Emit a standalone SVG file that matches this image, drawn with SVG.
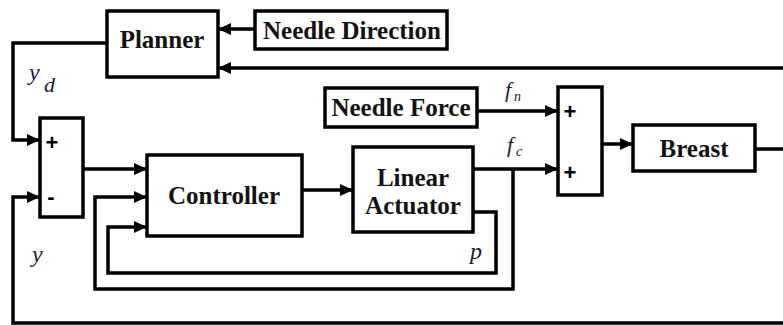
<svg xmlns="http://www.w3.org/2000/svg" width="783" height="325" viewBox="0 0 783 325">
<style>
.box{fill:#fff;stroke:#000;stroke-width:3.5}
.lbl{font-family:"Liberation Serif",serif;font-weight:bold;font-size:25px;fill:#111;text-anchor:middle}
.sign{font-family:"Liberation Sans",sans-serif;font-weight:bold;font-size:22px;fill:#000;text-anchor:middle}
.it{font-family:"Liberation Serif",serif;font-style:italic;fill:#1a1a3a}
.ln{fill:none;stroke:#000;stroke-width:3.5}
</style>
<defs>
<marker id="ah" markerUnits="userSpaceOnUse" markerWidth="13" markerHeight="12" refX="13" refY="6" orient="auto">
<path d="M0,0 L13,6 L0,12 z" fill="#000"/>
</marker>
</defs>
<g id="connectors">
<path class="ln" d="M107,43 H13 V140 H40" marker-end="url(#ah)"/>
<path class="ln" d="M255,29 H218" marker-end="url(#ah)"/>
<path class="ln" d="M783,68 H218" marker-end="url(#ah)"/>
<path class="ln" d="M83,169 H147" marker-end="url(#ah)"/>
<path class="ln" d="M302,190 H353" marker-end="url(#ah)"/>
<path class="ln" d="M473,169 H558" marker-end="url(#ah)"/>
<path class="ln" d="M513,169 V289 H95 V197 H147" marker-end="url(#ah)"/>
<path class="ln" d="M473,212 H496 V273 H108 V227 H147" marker-end="url(#ah)"/>
<path class="ln" d="M477,111 H558" marker-end="url(#ah)"/>
<path class="ln" d="M602,144 H633" marker-end="url(#ah)"/>
<path class="ln" d="M755,149 H783"/>
<path class="ln" d="M783,323 H13 V197 H40" marker-end="url(#ah)"/>
</g>
<g id="planner">
<rect class="box" x="107" y="11" width="111" height="66"/>
<text class="lbl" x="162" y="48">Planner</text>
</g>
<g id="needle-direction">
<rect class="box" x="255" y="11" width="192" height="38"/>
<text class="lbl" x="352" y="39">Needle Direction</text>
</g>
<g id="sum1">
<rect class="box" x="40" y="118" width="43" height="99"/>
<text class="sign" x="52" y="150">+</text>
<text class="sign" x="51" y="204">-</text>
</g>
<g id="controller">
<rect class="box" x="147" y="155" width="155" height="81"/>
<text class="lbl" x="224" y="204">Controller</text>
</g>
<g id="linear-actuator">
<rect class="box" x="353" y="147" width="120" height="85"/>
<text class="lbl" x="413" y="186">Linear</text>
<text class="lbl" x="413" y="214">Actuator</text>
</g>
<g id="needle-force">
<rect class="box" x="325" y="88" width="152" height="39"/>
<text class="lbl" x="401" y="116">Needle Force</text>
</g>
<g id="sum2">
<rect class="box" x="558" y="87" width="44" height="108"/>
<text class="sign" x="570" y="119">+</text>
<text class="sign" x="570" y="180">+</text>
</g>
<g id="breast">
<rect class="box" x="633" y="125" width="122" height="46"/>
<text class="lbl" x="694" y="157">Breast</text>
</g>
<g id="labels">
<text class="it" x="29" y="80" font-size="24">y</text>
<text class="it" x="44" y="92" font-size="22">d</text>
<text class="it" x="505" y="97" font-size="22">f</text>
<text class="it" x="514" y="101" font-size="14">n</text>
<text class="it" x="507" y="152" font-size="22">f</text>
<text class="it" x="516" y="156" font-size="14">c</text>
<text class="it" x="470" y="259" font-size="24">p</text>
<text class="it" x="32" y="262" font-size="24">y</text>
</g>
</svg>
